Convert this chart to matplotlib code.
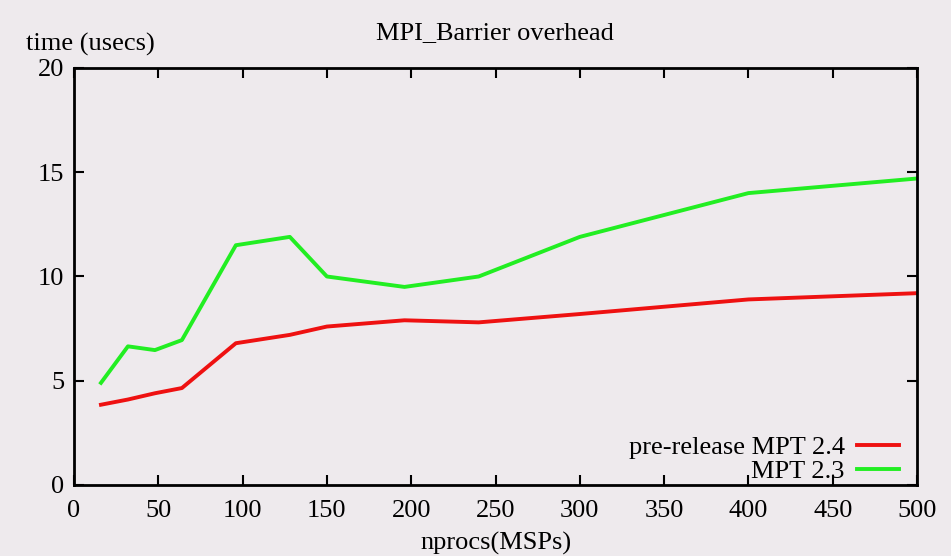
import matplotlib.pyplot as plt

nprocs = [16, 32, 48, 64, 96, 128, 150, 196, 240, 300, 400, 500]
mpt24 = [3.85, 4.1, 4.4, 4.65, 6.8, 7.2, 7.6, 7.9, 7.8, 8.2, 8.9, 9.2]
mpt23 = [4.9, 6.65, 6.47, 6.95, 11.5, 11.9, 10.0, 9.5, 10.0, 11.9, 14.0, 14.7]

bg = "#eeeaed"
plt.rcParams["font.family"] = ["Liberation Serif", "DejaVu Serif"]
fs = 19

fig = plt.figure(figsize=(9.51, 5.56), dpi=100, facecolor=bg)
ax = fig.add_axes([0.0778, 0.1277, 0.8865, 0.75])
ax.set_facecolor(bg)

ax.plot(nprocs, mpt24, color="#ee1111", lw=2.8, label="pre-release MPT 2.4")
ax.plot(nprocs, mpt23, color="#22ee22", lw=2.8, label="MPT 2.3")

ax.set_xlim(0, 500)
ax.set_ylim(0, 20)
ax.set_xticks(range(0, 501, 50))
ax.set_yticks(range(0, 21, 5))
ax.tick_params(direction="in", length=7, width=1.5, top=True, right=True,
               labelsize=fs, pad=7)
ax.tick_params(axis="x", pad=11)
for s in ax.spines.values():
    s.set_linewidth(2)

ax.set_xlabel("nprocs(MSPs)", fontsize=fs, labelpad=7)
fig.text(0.027, 0.9, "time (usecs)", fontsize=fs, ha="left", va="bottom")
fig.text(0.52, 0.92, "MPI_Barrier overhead", fontsize=fs, ha="center", va="bottom")

ax.legend(loc="lower right", frameon=False, markerfirst=False, fontsize=fs,
          handlelength=1.6, handletextpad=0.45, labelspacing=0.0,
          borderaxespad=0.0, bbox_to_anchor=(0.991, -0.02))

fig.savefig("out.png", dpi=100, facecolor=bg)
